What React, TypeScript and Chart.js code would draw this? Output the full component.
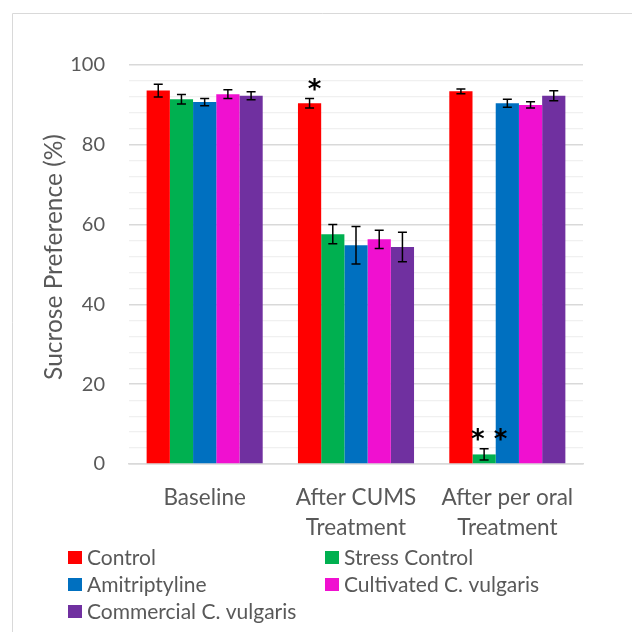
import React, { useEffect, useRef } from "react";
import { Chart, registerables } from "chart.js";

Chart.register(...registerables);

const categories: string[][] = [["Baseline"], ["After CUMS", "Treatment"], ["After per oral", "Treatment"]];
const seriesNames = ["Control", "Stress Control", "Amitriptyline", "Cultivated C. vulgaris", "Commercial C. vulgaris"];
const seriesColors = ["#FF0000", "#00B050", "#0070C0", "#F010D0", "#7030A0"];

const controlValues = [93.6, 90.4, 93.4];
const stressValues = [91.4, 57.6, 2.4];
const amitriptylineValues = [90.7, 54.8, 90.4];
const cultivatedValues = [92.7, 56.3, 90.0];
const commercialValues = [92.3, 54.4, 92.3];

const controlErrors = [1.6, 1.2, 0.6];
const stressErrors = [1.2, 2.4, 1.4];
const amitriptylineErrors = [0.9, 4.7, 1.0];
const cultivatedErrors = [1.1, 2.3, 0.8];
const commercialErrors = [1.0, 3.7, 1.25];

const allValues = [controlValues, stressValues, amitriptylineValues, cultivatedValues, commercialValues];
const allErrors = [controlErrors, stressErrors, amitriptylineErrors, cultivatedErrors, commercialErrors];

const significanceMarks = [
  { series: 0, category: 1, text: "*" },
  { series: 1, category: 2, text: "* *" },
];

const yTitle = "Sucrose Preference (%)";
const FONT = "Lato, 'Open Sans', sans-serif";
const TEXT = "#595959";

const errorBarPlugin = {
  id: "errorBars",
  afterDatasetsDraw(chart: any) {
    const ctx = chart.ctx;
    const y = chart.scales.y;
    ctx.save();
    ctx.strokeStyle = "#000";
    ctx.lineWidth = 1.5;
    chart.data.datasets.forEach((ds: any, di: number) => {
      const meta = chart.getDatasetMeta(di);
      meta.data.forEach((bar: any, i: number) => {
        const v = ds.data[i];
        const e = allErrors[di][i];
        const top = y.getPixelForValue(v + e);
        const bot = y.getPixelForValue(v - e);
        const x = bar.x;
        const cap = 4.5;
        ctx.beginPath();
        ctx.moveTo(x, top);
        ctx.lineTo(x, bot);
        ctx.moveTo(x - cap, top);
        ctx.lineTo(x + cap, top);
        ctx.moveTo(x - cap, bot);
        ctx.lineTo(x + cap, bot);
        ctx.stroke();
      });
    });
    // significance marks
    ctx.fillStyle = "#000";
    ctx.font = `bold 26px 'DejaVu Sans', sans-serif`;
    ctx.textAlign = "center";
    ctx.textBaseline = "alphabetic";
    significanceMarks.forEach((m) => {
      const bar = chart.getDatasetMeta(m.series).data[m.category];
      const v = allValues[m.series][m.category] + allErrors[m.series][m.category];
      const errTop = y.getPixelForValue(v);
      const tm = ctx.measureText(m.text);
      const glyphBottom = errTop - 8;
      const baseline = glyphBottom - tm.actualBoundingBoxDescent;
      ctx.fillText(m.text, bar.x + 5, baseline);
    });
    ctx.restore();
  },
};

const frameLegendPlugin = {
  id: "frameLegend",
  beforeDraw(chart: any) {
    const ctx = chart.ctx;
    ctx.save();
    ctx.strokeStyle = "#d9d9d9";
    ctx.lineWidth = 1;
    ctx.beginPath();
    ctx.moveTo(12.5, chart.height);
    ctx.lineTo(12.5, 13.5);
    ctx.lineTo(chart.width, 13.5);
    ctx.stroke();
    ctx.restore();
  },
  afterDraw(chart: any) {
    const ctx = chart.ctx;
    ctx.save();
    // y axis title
    ctx.fillStyle = TEXT;
    ctx.font = `24.5px ${FONT}`;
    ctx.textAlign = "center";
    ctx.textBaseline = "middle";
    ctx.translate(54, 257);
    ctx.rotate(-Math.PI / 2);
    ctx.fillText(yTitle, 0, 0);
    ctx.restore();

    ctx.save();
    ctx.font = `21px ${FONT}`;
    ctx.textBaseline = "middle";
    ctx.textAlign = "left";
    const colX = [68, 325];
    const rowY = [558, 585, 612];
    chart.data.datasets.forEach((ds: any, i: number) => {
      const cx = colX[i % 2];
      const cy = rowY[Math.floor(i / 2)];
      ctx.fillStyle = ds.backgroundColor;
      ctx.fillRect(cx, cy - 7, 14, 13);
      ctx.fillStyle = TEXT;
      ctx.fillText(ds.label, cx + 19, cy);
    });
    ctx.restore();
  },
};

export default function App() {
  const ref = useRef<HTMLCanvasElement | null>(null);
  useEffect(() => {
    if (!ref.current) return;
    const chart = new Chart(ref.current, {
      type: "bar",
      data: {
        labels: categories,
        datasets: seriesNames.map((name, i) => ({
          label: name,
          data: allValues[i],
          backgroundColor: seriesColors[i],
          borderWidth: 0,
          categoryPercentage: 0.767,
          barPercentage: 1.0,
        })),
      },
      options: {
        responsive: false,
        animation: false,
        layout: { padding: { top: 65, right: 49, left: 0, bottom: 0 } },
        plugins: {
          legend: { display: false },
          tooltip: { enabled: false },
        },
        scales: {
          x: {
            grid: { display: false, drawTicks: false },
            border: { display: true, color: "#d9d9d9", width: 1.5 },
            ticks: {
              color: TEXT,
              font: { family: FONT, size: 22.5, lineHeight: 1.33 },
              padding: 19,
              maxRotation: 0,
              autoSkip: false,
            },
            afterFit(scale: any) {
              scale.height = 168;
            },
          },
          y: {
            min: 0,
            max: 100,
            border: { display: false },
            grid: {
              drawTicks: false,
              color: (c: any) => (c.tick && c.tick.value % 20 === 0 ? "#d9d9d9" : "#f0f0f0"),
              lineWidth: (c: any) => (c.tick && c.tick.value % 20 === 0 ? 1.5 : 1.2),
            },
            ticks: {
              stepSize: 4,
              autoSkip: false,
              color: TEXT,
              padding: 24,
              font: { family: FONT, size: 20 },
              callback: (v: any) => (Number(v) % 20 === 0 ? String(v) : ""),
            },
            title: { display: false },
            afterFit(scale: any) {
              scale.width = 129;
            },
          },
        },
      },
      plugins: [errorBarPlugin, frameLegendPlugin],
    });
    return () => chart.destroy();
  }, []);
  return (
    <div style={{ position: "absolute", left: 0, top: 0, width: 632, height: 632, background: "#fff" }}>
      <canvas ref={ref} width={632} height={632} style={{ display: "block" }} />
    </div>
  );
}
